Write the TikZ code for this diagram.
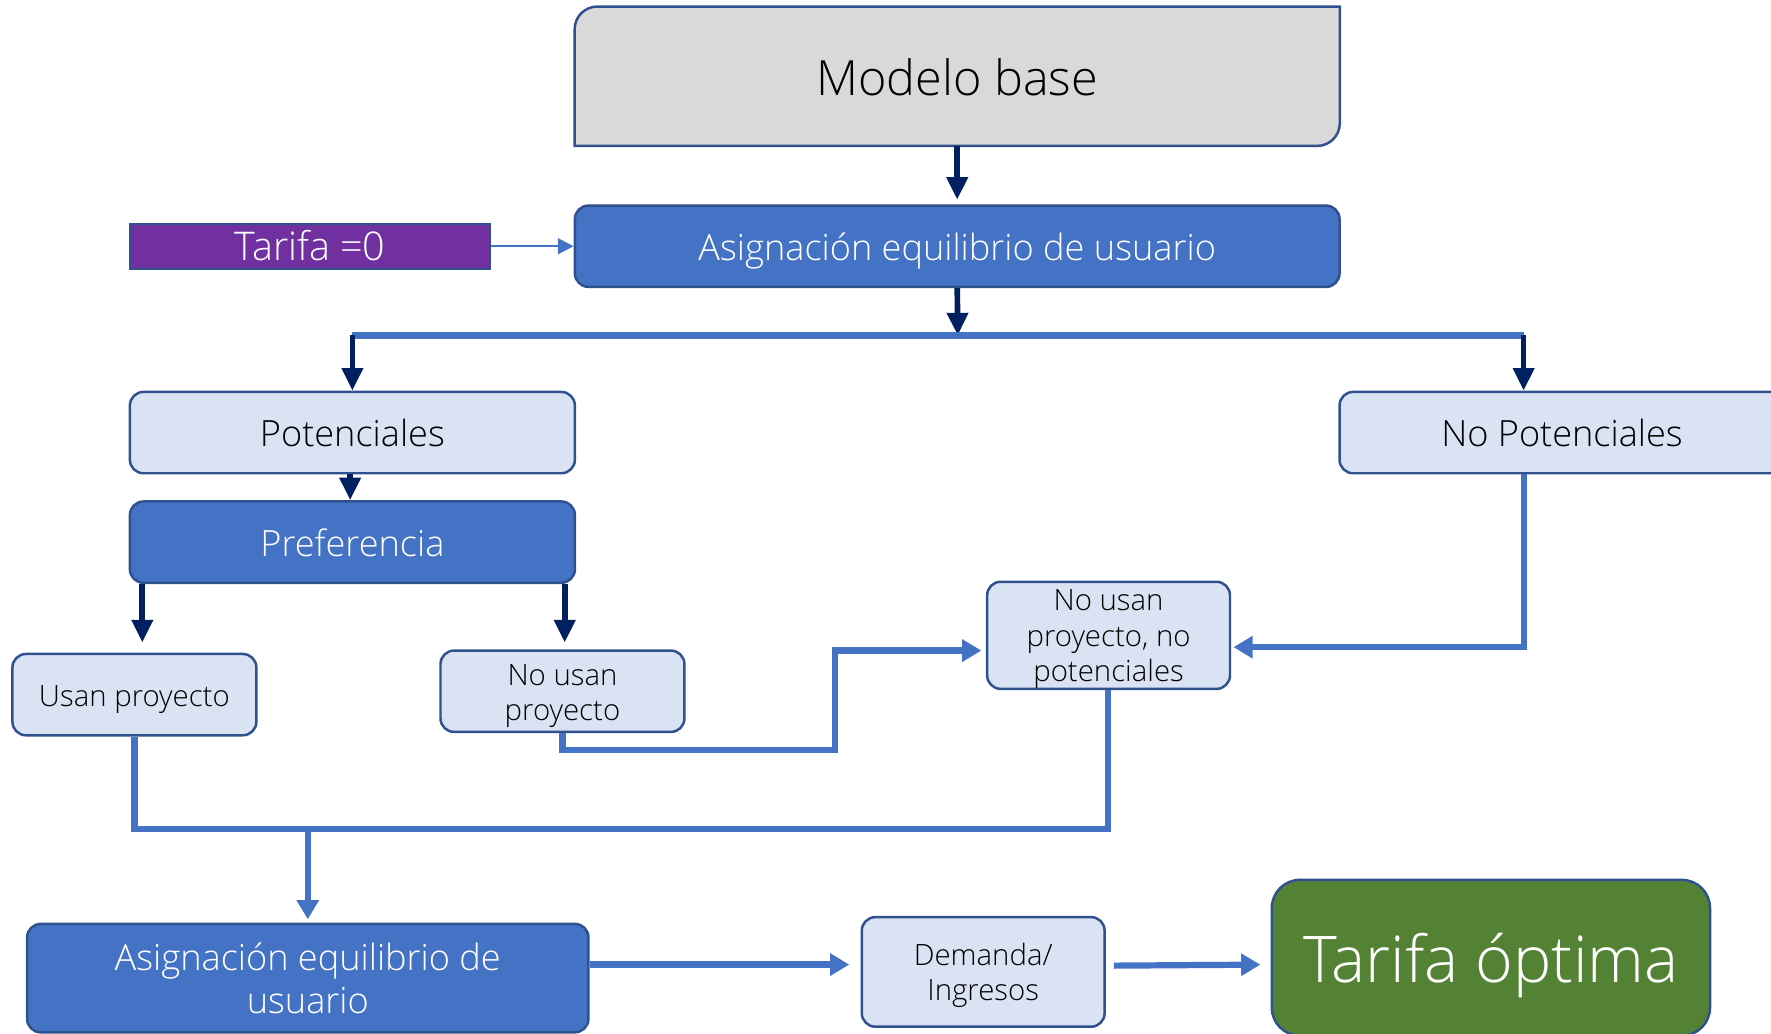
\documentclass[tikz,border=0pt]{standalone}
\usepackage{fontspec}
\setmainfont{Open Sans}[UprightFont={* Light}]
\usetikzlibrary{arrows.meta,backgrounds,calc}
\definecolor{navy}{HTML}{002060}
\definecolor{mblue}{HTML}{4472C4}
\definecolor{bord}{HTML}{2F528F}
\definecolor{lblue}{HTML}{DAE3F3}
\definecolor{mgrey}{HTML}{D9D9D9}
\definecolor{mpurple}{HTML}{7030A0}
\definecolor{mgreen}{HTML}{548235}
\newcommand\tstrut[1]{\rule{0pt}{#1}}
\tikzset{
  box/.style={draw=bord, line width=2.2pt, rounded corners=12pt, inner sep=0pt, align=center},
  lightbox/.style={box, fill=lblue, text=black},
  bluebox/.style={box, fill=mblue, text=white},
  navyarrow/.style={draw=navy, line width=5pt, -{Triangle[length=20pt,width=18pt]}},
  bconn/.style={draw=mblue, line width=5.5pt},
  barrow/.style={bconn, -{Triangle[length=17pt,width=19pt]}},
}
\begin{document}
\begin{tikzpicture}[x=1pt,y=-1pt]
\useasboundingbox (0,0) rectangle (1568,915);
\clip (0,0) rectangle (1568,915);

% nodes
\node[inner sep=0pt, minimum width=677pt, minimum height=123pt, text height=46pt, text depth=12.5pt, font=\fontsize{43}{48}\selectfont] (mb) at (847.5,67.5) {Modelo base};
\begin{scope}[on background layer]
\draw[draw=bord, line width=2.2pt, fill=mgrey]
  (mb.south west) -- ([yshift=-20pt]mb.north west)
  .. controls ([yshift=-9pt]mb.north west) and ([xshift=9pt]mb.north west) .. ([xshift=20pt]mb.north west)
  -- (mb.north east) -- ([yshift=20pt]mb.south east)
  .. controls ([yshift=9pt]mb.south east) and ([xshift=-9pt]mb.south east) .. ([xshift=-20pt]mb.south east) -- cycle;
\end{scope}

\node[bluebox, minimum width=677pt, minimum height=72pt, text height=34.2pt, text depth=9.3pt, font=\fontsize{32}{38}\selectfont] (ae1) at (847.5,218) {Asignación equilibrio de usuario};
\node[draw=bord, line width=2pt, fill=mpurple, text=white, inner sep=0pt, minimum width=319pt, minimum height=40pt, text height=30pt, text depth=5pt, font=\fontsize{35}{38}\selectfont] (t0) at (274.5,218) {Tarifa =0};

\node[lightbox, minimum width=394pt, minimum height=72pt, text height=34.2pt, text depth=9.3pt, font=\fontsize{32}{38}\selectfont] (pot) at (312,383) {Potenciales};
\node[lightbox, minimum width=394pt, minimum height=72pt, text height=34.2pt, text depth=9.3pt, font=\fontsize{32}{38}\selectfont] (nopot) at (1383,383) {No Potenciales};
\node[bluebox, minimum width=394pt, minimum height=72pt, text height=34.2pt, text depth=9.3pt, font=\fontsize{32}{38}\selectfont] (pref) at (312,480) {Preferencia};

\node[lightbox, minimum width=216pt, minimum height=72pt, text height=27.8pt, text depth=7.5pt, font=\fontsize{26}{31}\selectfont] (usan) at (119,615) {Usan proyecto};
\node[lightbox, minimum width=216pt, minimum height=72pt, font=\fontsize{26}{31}\selectfont] (nousan) at (498,612) {\tstrut{27.6pt}No usan\\proyecto};
\node[lightbox, minimum width=215pt, minimum height=93pt, font=\fontsize{26}{31.5}\selectfont] (nupnp) at (981.5,562.5) {\tstrut{25.6pt}No usan\\proyecto, no\\potenciales};

\node[bluebox, minimum width=497pt, minimum height=96pt, font=\fontsize{32}{38}\selectfont] (ae2) at (272.5,866) {Asignación equilibrio de\\usuario};
\node[lightbox, minimum width=215pt, minimum height=97pt, font=\fontsize{26}{31}\selectfont] (dem) at (870.5,860.5) {\tstrut{25.8pt}Demanda/\\Ingresos};
\node[box, fill=mgreen, text=white, rounded corners=25pt, minimum width=388pt, minimum height=138pt, text height=61pt, text depth=16.5pt, font=\fontsize{57}{62}\selectfont] (topt) at (1320,848) {Tarifa óptima};

% junction coordinates
\coordinate (j1) at (848,297);
\coordinate (jl) at (312,297);
\coordinate (jr) at (1349,297);
\coordinate (j2) at (272.5,734);

% top connectors
\draw[navyarrow, shorten >=4pt] (mb.south) -- (ae1.north);
\draw[navyarrow] (ae1.south) -- (j1);
\draw[bconn] (jl) -- (jr);
\draw[navyarrow] (jl) -- (pot.north);
\draw[navyarrow] (jr) -- ([xshift=-34pt]nopot.north);
\draw[draw=mblue, line width=2pt, -{Triangle[length=14pt,width=14pt]}] (t0.east) -- (ae1.west);

\draw[navyarrow] ([xshift=-2pt]pot.south) -- ([xshift=-2pt]pref.north);
\draw[navyarrow, shorten >=9pt] ([xshift=-186pt]pref.south) -- ([xshift=7pt]usan.north);
\draw[navyarrow, shorten >=6pt] ([xshift=188pt]pref.south) -- ([xshift=2pt]nousan.north);

% blue connectors
\draw[barrow, shorten >=4pt] (nousan.south) |- (739,664) |- ([yshift=-13.5pt]nupnp.west);
\draw[barrow, shorten >=2pt] ([xshift=-34pt]nopot.south) |- ([yshift=-10.5pt]nupnp.east);
\draw[bconn] (usan.south) |- (j2);
\draw[bconn] ([xshift=-0.5pt]nupnp.south) |- (j2);
\draw[barrow, shorten >=3pt] (j2) -- (ae2.north);
\draw[barrow, shorten >=10pt] ([yshift=12pt]ae2.east) -- ([yshift=6.5pt]dem.west);
\draw[barrow, shorten <=7pt, shorten >=9pt] ([yshift=5.5pt]dem.east) -- ([yshift=-6pt]topt.west);
\end{tikzpicture}
\end{document}
